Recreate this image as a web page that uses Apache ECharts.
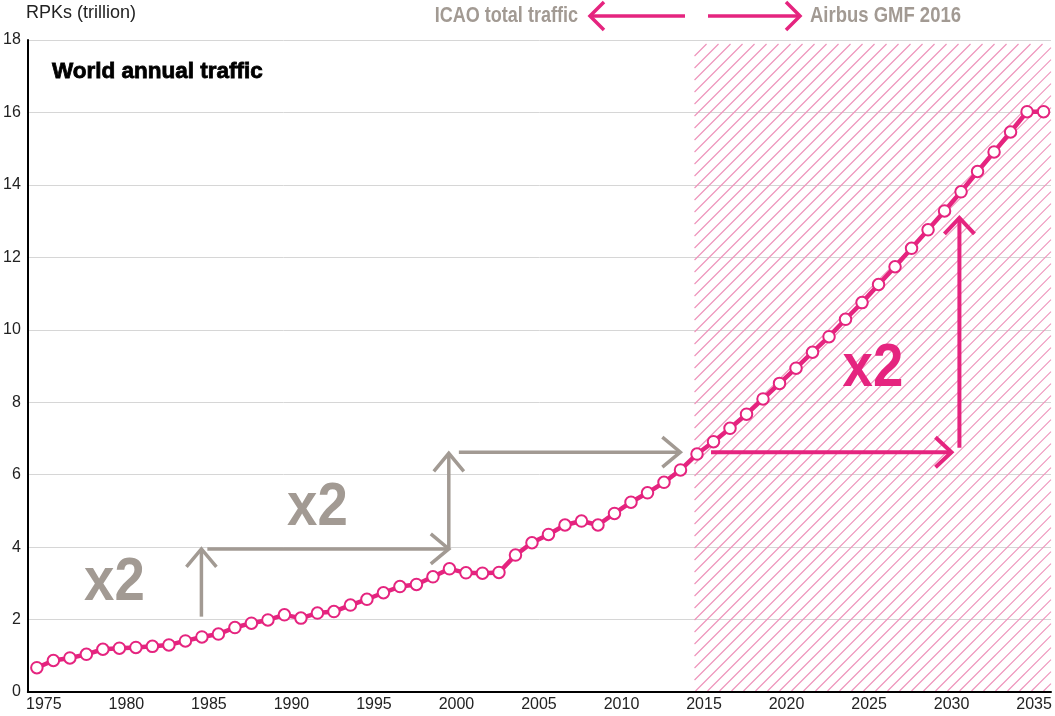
<!DOCTYPE html>
<html><head><meta charset="utf-8">
<script src="https://cdn.jsdelivr.net/npm/echarts@6/dist/echarts.min.js"></script>
<style>html,body{margin:0;padding:0;background:#fff}#c{width:1055px;height:716px}</style>
</head><body><div id="c"></div>
<script>
// ---- data ----
const years = [1975,1976,1977,1978,1979,1980,1981,1982,1983,1984,1985,1986,1987,1988,1989,1990,1991,1992,1993,1994,1995,1996,1997,1998,1999,2000,2001,2002,2003,2004,2005,2006,2007,2008,2009,2010,2011,2012,2013,2014,2015,2016,2017,2018,2019,2020,2021,2022,2023,2024,2025,2026,2027,2028,2029,2030,2031,2032,2033,2034,2035,2036];
const rpk = [0.67,0.87,0.94,1.04,1.18,1.21,1.23,1.26,1.30,1.41,1.52,1.60,1.78,1.90,1.99,2.13,2.04,2.18,2.22,2.40,2.56,2.74,2.91,2.97,3.18,3.40,3.29,3.28,3.30,3.78,4.12,4.35,4.61,4.72,4.61,4.93,5.24,5.50,5.79,6.13,6.57,6.91,7.28,7.67,8.09,8.52,8.94,9.38,9.81,10.29,10.75,11.25,11.74,12.25,12.76,13.28,13.81,14.37,14.91,15.46,16.02,16.02];
const xTickLabels = [1975,1980,1985,1990,1995,2000,2005,2010,2015,2020,2025,2030,2035];
const yTicks = [0,2,4,6,8,10,12,14,16,18];
const xRange = [1974.45, 2036.45];
const forecastStart = 2014.85;
// annotation arrows in data space: [from, to(tip)]
const grayArrows = [
  [[1984.97, 2.08], [1984.97, 3.95]],
  [[1985.33, 3.95], [1999.96, 3.95]],
  [[1999.96, 3.98], [1999.96, 6.59]],
  [[2000.57, 6.62], [2013.99, 6.62]]
];
const pinkArrows = [
  [[2015.85, 6.62], [2030.42, 6.62]],
  [[2030.90, 6.74], [2030.90, 13.09]]
];
const grayLabels = [[1979.7, 3.02], [1992.0, 5.09]];
const pinkLabels = [[2025.66, 8.91]];

const PINK = '#e5247f', GRAY = '#a29a93', HATCH = '#ee93bb';
const SANS = "'Liberation Sans',Arial,Helvetica,sans-serif";

const chart = echarts.init(document.getElementById('c'), null, {renderer: 'canvas'});
chart.setOption({
  animation: false,
  grid: {left: 27, right: 4, top: 40, bottom: 24, containLabel: false},
  xAxis: {
    type: 'value', min: xRange[0], max: xRange[1],
    axisLine: {show: true, lineStyle: {color: '#000', width: 2}},
    axisTick: {show: false},
    splitLine: {show: false},
    axisLabel: {customValues: xTickLabels, fontFamily: SANS, fontSize: 16, color: '#222', margin: 5, padding: [0,0,0,14], formatter: v => String(v)}
  },
  yAxis: {
    type: 'value', min: yTicks[0], max: yTicks[yTicks.length-1], interval: 2,
    axisLine: {show: true, lineStyle: {color: '#000', width: 2}},
    axisTick: {show: false},
    splitLine: {show: true, lineStyle: {color: '#d6d6d6', width: 1}},
    axisLabel: {fontFamily: SANS, fontSize: 16, color: '#222', margin: 7}
  },
  series: [{
    type: 'line',
    data: years.map((y, i) => [y, rpk[i]]),
    symbol: 'circle', symbolSize: 11.5, showAllSymbol: true,
    lineStyle: {color: PINK, width: 4.5},
    itemStyle: {color: '#fff', borderColor: PINK, borderWidth: 2},
    z: 5
  }]
});

function px(p){ return chart.convertToPixel({xAxisIndex: 0, yAxisIndex: 0}, p); }
function chev(s, t, color, w, half, depth, z){
  const dx = t[0]-s[0], dy = t[1]-s[1], L = Math.hypot(dx, dy);
  const ux = dx/L, uy = dy/L, nx = -uy, ny = ux;
  return [
    {type: 'line', shape: {x1: s[0], y1: s[1], x2: t[0], y2: t[1]}, style: {stroke: color, lineWidth: w}, z: z},
    {type: 'polyline', shape: {points: [[t[0]-ux*depth+nx*half, t[1]-uy*depth+ny*half], [t[0], t[1]], [t[0]-ux*depth-nx*half, t[1]-uy*depth-ny*half]]},
     style: {stroke: color, lineWidth: w, fill: null, lineJoin: 'miter'}, z: z}
  ];
}
function arrow(a, color, w, half, depth){ return chev(px(a[0]), px(a[1]), color, w, half, depth, 20); }
function bigText(p, color){
  const q = px(p);
  return {type: 'text', x: q[0], y: q[1], z: 21, scaleX: 0.88,
    style: {text: 'x2', fill: color, font: "bold 62px " + SANS, align: 'center', verticalAlign: 'middle'}};
}
const g = [];
// forecast hatch area: 45-degree lines clipped to the forecast region
const a0 = px([forecastStart, yTicks[yTicks.length-1]]), a1 = px([xRange[1], yTicks[0]]);
const L = a0[0], R = a1[0], T = a0[1] + 4, B = a1[1] - 1, H = B - T, step = 12;
for (let c = L - H; c < R; c += step) {
  let x1 = c, y1 = B, x2 = c + H, y2 = T;
  if (x1 < L) { y1 = B - (L - c); x1 = L; }
  if (x2 > R) { y2 = B - (R - c); x2 = R; }
  if (x2 <= x1) continue;
  g.push({type: 'line', z: 0, silent: true, shape: {x1: x1, y1: y1, x2: x2, y2: y2}, style: {stroke: HATCH, lineWidth: 1.1}});
}
grayArrows.forEach(a => g.push(...arrow(a, GRAY, 3.5, 15, 18)));
pinkArrows.forEach(a => g.push(...arrow(a, PINK, 4, 15, 16)));
grayLabels.forEach(p => g.push(bigText(p, GRAY)));
pinkLabels.forEach(p => g.push(bigText(p, PINK)));
// header texts
g.push({type: 'text', x: 26, y: 13, style: {text: 'RPKs (trillion)', fill: '#222', font: "18px " + SANS, verticalAlign: 'middle'}});
g.push({type: 'text', x: 52, y: 72, z: 21, style: {text: 'World annual traffic', fill: '#000', stroke: '#000', lineWidth: 0.8, font: "bold 22.5px " + SANS, verticalAlign: 'middle'}});
g.push({type: 'text', x: 578, y: 16, scaleX: 0.82, style: {text: 'ICAO total traffic', fill: GRAY, font: "bold 22px " + SANS, align: 'right', verticalAlign: 'middle'}});
g.push({type: 'text', x: 810, y: 16, scaleX: 0.84, style: {text: 'Airbus GMF 2016', fill: GRAY, font: "bold 22px " + SANS, align: 'left', verticalAlign: 'middle'}});
// legend arrows in the header
g.push(...chev([685, 16], [590, 16], PINK, 3.5, 14, 14, 10));
g.push(...chev([708, 16], [800, 16], PINK, 3.5, 14, 14, 10));
chart.setOption({graphic: g});
</script>
</body></html>
